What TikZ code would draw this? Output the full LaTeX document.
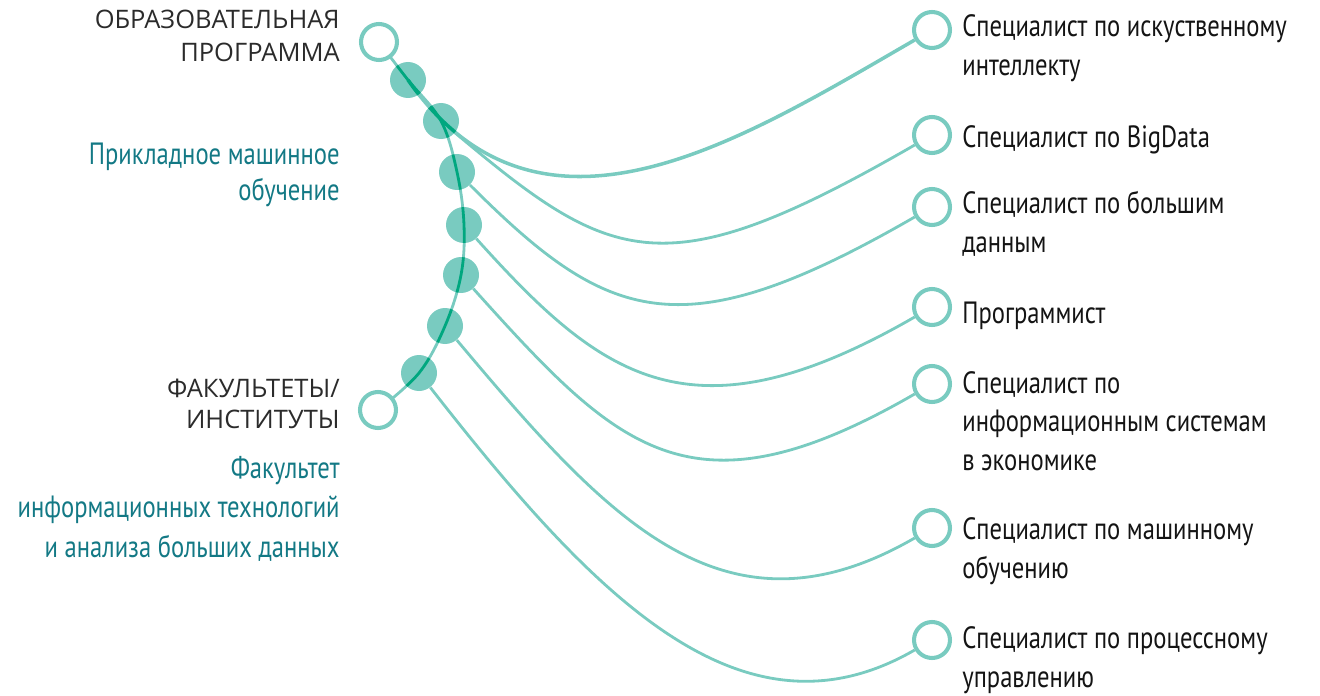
\documentclass[tikz,border=0pt]{standalone}
\usepackage{fontspec}
\setmainfont{PT Sans}[FakeStretch=0.8]
\newfontfamily\capsfont{Open Sans}
\usetikzlibrary{positioning}
\definecolor{mint}{HTML}{79CBC0}
\definecolor{jade}{HTML}{00A77F}
\definecolor{petrol}{HTML}{137985}
\definecolor{graphite}{HTML}{2B2B2B}
% the arc from programme to faculty, through the dots
\newcommand{\arcpath}{plot[smooth, tension=0.6] coordinates {(T) (p1) (p2) (p3) (p4) (p5) (p6) (p7) (B)}}
\begin{document}
\begin{tikzpicture}[scale=1,
    ring/.style={circle, draw=mint, line width=2.3pt, fill=white, minimum size=0.72cm, inner sep=0pt},
    dot/.style={circle, minimum size=0.72cm, inner sep=0pt},
    link/.style={draw=mint, line width=1.6pt},
    job/.style={anchor=base west, align=left, inner sep=0pt, text=black!92,
                font=\fontsize{17.5pt}{21.8pt}\selectfont},
    head/.style={anchor=base east, align=right, inner sep=0pt, text=graphite,
                 font=\capsfont\fontsize{14.5pt}{19pt}\selectfont},
    field/.style={anchor=base east, align=right, inner sep=0pt, text=petrol,
                  font=\fontsize{17.5pt}{20pt}\selectfont}]
    \useasboundingbox (0,0) rectangle (26.4,13.9);
    % --- Left: the two end points of the arc ---
    \coordinate (T) at (7.58,13.06);
    \coordinate (B) at (7.56,5.70);
    % Points along the arc
    \coordinate (p1) at (8.16,12.30);
    \coordinate (p2) at (8.82,11.48);
    \coordinate (p3) at (9.14,10.46);
    \coordinate (p4) at (9.28,9.40);
    \coordinate (p5) at (9.22,8.40);
    \coordinate (p6) at (8.90,7.38);
    \coordinate (p7) at (8.38,6.44);
    \draw[link] \arcpath;
    % --- Right: the professions ---
    \node[ring] (c1) at (18.64,13.30) {};
    \node[ring] (c2) at (18.64,11.20) {};
    \node[ring] (c3) at (18.64,9.76) {};
    \node[ring] (c4) at (18.64,7.76) {};
    \node[ring] (c5) at (18.64,6.22) {};
    \node[ring] (c6) at (18.64,3.34) {};
    \node[ring] (c7) at (18.64,1.10) {};
    % Dots on the arc (nodes, so that the links can start at their border)
    \foreach \i in {1,...,7}
        \node[dot] (d\i) at (p\i) {};
    % Links from the dots to the professions
    \draw[link, line width=2pt] (d1.center) .. controls +(-55:4.6) and +(210:4.0) .. (c1.210);
    \draw[link] (d2.-40) .. controls +(-40:4.1) and +(210:5.8) .. (c2.210);
    \draw[link] (d3.-45) .. controls +(-45:3.9) and +(210:5.4) .. (c3.210);
    \draw[link] (d4.-48) .. controls +(-48:3.7) and +(210:5.2) .. (c4.210);
    \draw[link] (d5.-48) .. controls +(-48:4.3) and +(210:5.2) .. (c5.210);
    \draw[link] (d6.-50) .. controls +(-50:4.7) and +(210:4.4) .. (c6.210);
    \draw[link] (d7.-52) .. controls +(-52:5.3) and +(210:4.0) .. (c7.210);
    % Hollow end circles of the arc (drawn over the lines)
    \node[ring] (top) at (T) {};
    \node[ring] (bottom) at (B) {};
    % Filled dots, with the arc showing darker through them
    \foreach \i in {1,...,7} {
        \fill[mint] (d\i) circle (0.36);
        \begin{scope}
            \clip (d\i) circle (0.36);
            \draw[link, draw=jade] \arcpath;
            \draw[link, draw=jade, line width=2pt] (d1.center) .. controls +(-55:4.6) and +(210:4.0) .. (c1.210);
        \end{scope}
    }
    % --- Labels ---
    \node[head] (prog) at (6.8,12.66) {ОБРАЗОВАТЕЛЬНАЯ\\ПРОГРАММА};
    \node[field] (ml) at (6.8,9.90) {Прикладное машинное\\обучение};
    \node[head, font=\capsfont\fontsize{14.5pt}{17.6pt}\selectfont] (fac) at (6.8,5.34) {ФАКУЛЬТЕТЫ/\\ИНСТИТУТЫ};
    \node[field, font=\fontsize{17.5pt}{22.4pt}\selectfont] (fit) at (6.8,2.76) {Факультет\\информационных технологий\\и анализа больших данных};
    \node[job] (j1) at (19.24,12.40) {Специалист по искуственному\\интеллекту};
    \node[job] (j2) at (19.24,10.96) {Специалист по BigData};
    \node[job] (j3) at (19.24,8.86) {Специалист по большим\\данным};
    \node[job] (j4) at (19.24,7.44) {Программист};
    \node[job] (j5) at (19.24,4.50) {Специалист по\\информационным системам\\в экономике};
    \node[job] (j6) at (19.24,2.34) {Специалист по машинному\\обучению};
    \node[job] (j7) at (19.24,0.16) {Специалист по процессному\\управлению};
\end{tikzpicture}
\end{document}
